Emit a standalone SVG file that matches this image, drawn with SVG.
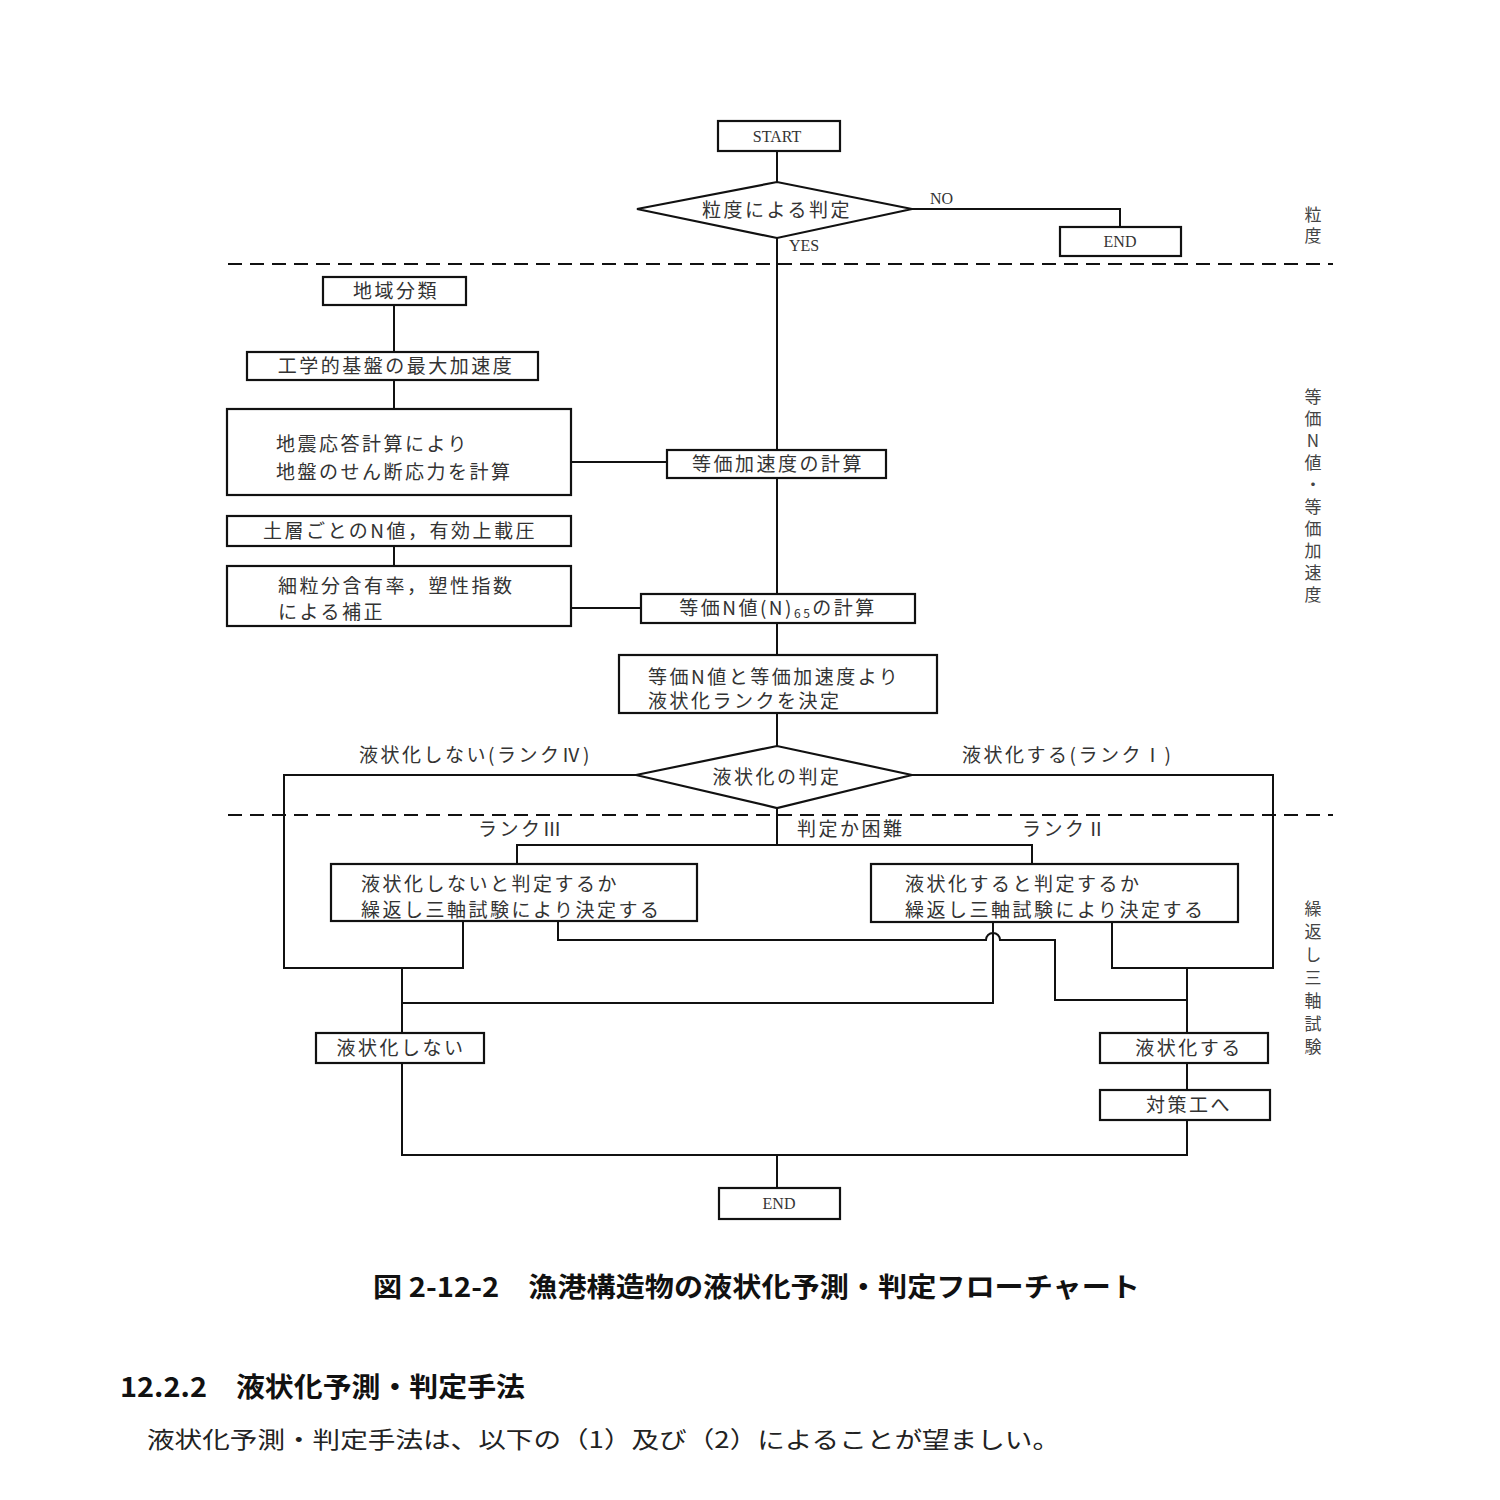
<svg xmlns="http://www.w3.org/2000/svg" width="1500" height="1500" viewBox="0 0 1500 1500">
<style>
  .box { fill: #fff; stroke: #111; stroke-width: 2.2; }
  .ln { fill: none; stroke: #111; stroke-width: 2; }
  .dash { fill: none; stroke: #111; stroke-width: 2; stroke-dasharray: 14 8; }
  .t { font-family: "Noto Sans CJK JP", sans-serif; font-size: 19px; fill: #333; letter-spacing: 2.5px; }
  .c { text-anchor: middle; }
  .lat { font-family: "Liberation Serif", serif; font-size: 16px; fill: #333; }
  .side { font-family: "Noto Sans CJK JP", sans-serif; font-size: 17px; fill: #444; writing-mode: vertical-rl; text-orientation: upright; }
  .cap { font-family: "Noto Sans CJK JP", sans-serif; font-weight: bold; font-size: 27px; fill: #111; }
  .body { font-family: "Noto Sans CJK JP", sans-serif; font-size: 23px; fill: #222; }
</style>
<rect width="1500" height="1500" fill="#fff"/>

<g id="dividers">
  <line class="dash" x1="228" y1="264" x2="1333" y2="264"/>
  <line class="dash" x1="228" y1="815" x2="1333" y2="815"/>
</g>

<g id="connectors">
  <path class="ln" d="M777,151 V182"/>
  <path class="ln" d="M912,209 H1120 V227"/>
  <path class="ln" d="M777,238 V450"/>
  <path class="ln" d="M394,305 V352"/>
  <path class="ln" d="M394,380 V409"/>
  <path class="ln" d="M571,462 H667"/>
  <path class="ln" d="M777,478 V594"/>
  <path class="ln" d="M394,546 V566"/>
  <path class="ln" d="M571,608 H641"/>
  <path class="ln" d="M777,623 V655"/>
  <path class="ln" d="M777,713 V746"/>
  <path class="ln" d="M777,808 V845"/>
  <path class="ln" d="M517,864 V845 H1032 V864"/>
  <path class="ln" d="M636,775 H284 V968 H463 V921"/>
  <path class="ln" d="M402,968 V1033"/>
  <path class="ln" d="M912,775 H1273 V968 H1112 V922"/>
  <path class="ln" d="M1187,968 V1033"/>
  <path class="ln" d="M558,921 V940 H986 A7,7 0 0 1 1000,940 H1055 V1000 H1187"/>
  <path class="ln" d="M993,922 V1003 H402"/>
  <path class="ln" d="M1187,1063 V1090"/>
  <path class="ln" d="M402,1063 V1155 H1187 V1120"/>
  <path class="ln" d="M777,1155 V1188"/>
</g>

<g id="edge-labels">
  <text class="lat" x="930" y="204">NO</text>
  <text class="lat" x="789" y="251">YES</text>
  <text class="t" x="359" y="762">液状化しない(ランクⅣ)</text>
  <text class="t" x="962" y="762">液状化する(ランクⅠ)</text>
  <text class="t" x="478" y="836">ランクⅢ</text>
  <text class="t" x="797" y="836">判定か困難</text>
  <text class="t" x="1022" y="836">ランクⅡ</text>
</g>

<g id="start">
  <rect class="box" x="718" y="121" width="122" height="30"/>
  <text class="lat c" x="777" y="142">START</text>
</g>
<g id="grain-decision">
  <polygon class="box" points="637,209 777,182 912,209 777,238"/>
  <text class="t c" x="777" y="217">粒度による判定</text>
</g>
<g id="end-top">
  <rect class="box" x="1060" y="227" width="121" height="29"/>
  <text class="lat c" x="1120" y="247">END</text>
</g>
<g id="region">
  <rect class="box" x="323" y="277" width="143" height="28"/>
  <text class="t c" x="396" y="298">地域分類</text>
</g>
<g id="max-accel">
  <rect class="box" x="247" y="352" width="291" height="28"/>
  <text class="t c" x="396" y="373">工学的基盤の最大加速度</text>
</g>
<g id="seismic-response">
  <rect class="box" x="227" y="409" width="344" height="86"/>
  <text class="t" x="276" y="451">地震応答計算により</text>
  <text class="t" x="276" y="479">地盤のせん断応力を計算</text>
</g>
<g id="eq-accel">
  <rect class="box" x="667" y="450" width="219" height="28"/>
  <text class="t c" x="778" y="471">等価加速度の計算</text>
</g>
<g id="n-value">
  <rect class="box" x="227" y="516" width="344" height="30"/>
  <text class="t c" x="400" y="538">土層ごとのN値，有効上載圧</text>
</g>
<g id="correction">
  <rect class="box" x="227" y="566" width="344" height="60"/>
  <text class="t" x="278" y="593">細粒分含有率，塑性指数</text>
  <text class="t" x="278" y="619">による補正</text>
</g>
<g id="eq-n">
  <rect class="box" x="641" y="594" width="274" height="29"/>
  <text class="t c" x="778" y="615">等価N値(N)<tspan font-size="12" dy="3">65</tspan><tspan dy="-3">の計算</tspan></text>
</g>
<g id="rank">
  <rect class="box" x="619" y="655" width="318" height="58"/>
  <text class="t" x="648" y="684">等価N値と等価加速度より</text>
  <text class="t" x="648" y="708">液状化ランクを決定</text>
</g>
<g id="liq-decision">
  <polygon class="box" points="636,775 777,746 912,775 777,808"/>
  <text class="t c" x="777" y="784">液状化の判定</text>
</g>
<g id="rank3">
  <rect class="box" x="331" y="864" width="366" height="57"/>
  <text class="t" x="361" y="891">液状化しないと判定するか</text>
  <text class="t" x="361" y="917">繰返し三軸試験により決定する</text>
</g>
<g id="rank2">
  <rect class="box" x="871" y="864" width="367" height="58"/>
  <text class="t" x="905" y="891">液状化すると判定するか</text>
  <text class="t" x="905" y="917">繰返し三軸試験により決定する</text>
</g>
<g id="no-liq">
  <rect class="box" x="316" y="1033" width="168" height="30"/>
  <text class="t c" x="401" y="1055">液状化しない</text>
</g>
<g id="liq">
  <rect class="box" x="1100" y="1033" width="168" height="30"/>
  <text class="t c" x="1189" y="1055">液状化する</text>
</g>
<g id="countermeasure">
  <rect class="box" x="1100" y="1090" width="170" height="30"/>
  <text class="t c" x="1189" y="1112">対策工へ</text>
</g>
<g id="end-bottom">
  <rect class="box" x="719" y="1188" width="121" height="31"/>
  <text class="lat c" x="779" y="1209">END</text>
</g>

<g id="side-labels">
  <text class="side" x="1313" y="206" letter-spacing="4">粒度</text>
  <text class="side" x="1313" y="388" letter-spacing="5">等価N値・等価加速度</text>
  <text class="side" x="1313" y="900" letter-spacing="6">繰返し三軸試験</text>
</g>

<g id="caption">
  <text class="cap" x="373" y="1297" textLength="767" lengthAdjust="spacingAndGlyphs">図 2-12-2　漁港構造物の液状化予測・判定フローチャート</text>
  <text class="cap" x="120" y="1397" textLength="405" lengthAdjust="spacingAndGlyphs">12.2.2　液状化予測・判定手法</text>
  <text class="body" x="147" y="1448" textLength="913" lengthAdjust="spacingAndGlyphs">液状化予測・判定手法は、以下の（1）及び（2）によることが望ましい。</text>
</g>
</svg>
